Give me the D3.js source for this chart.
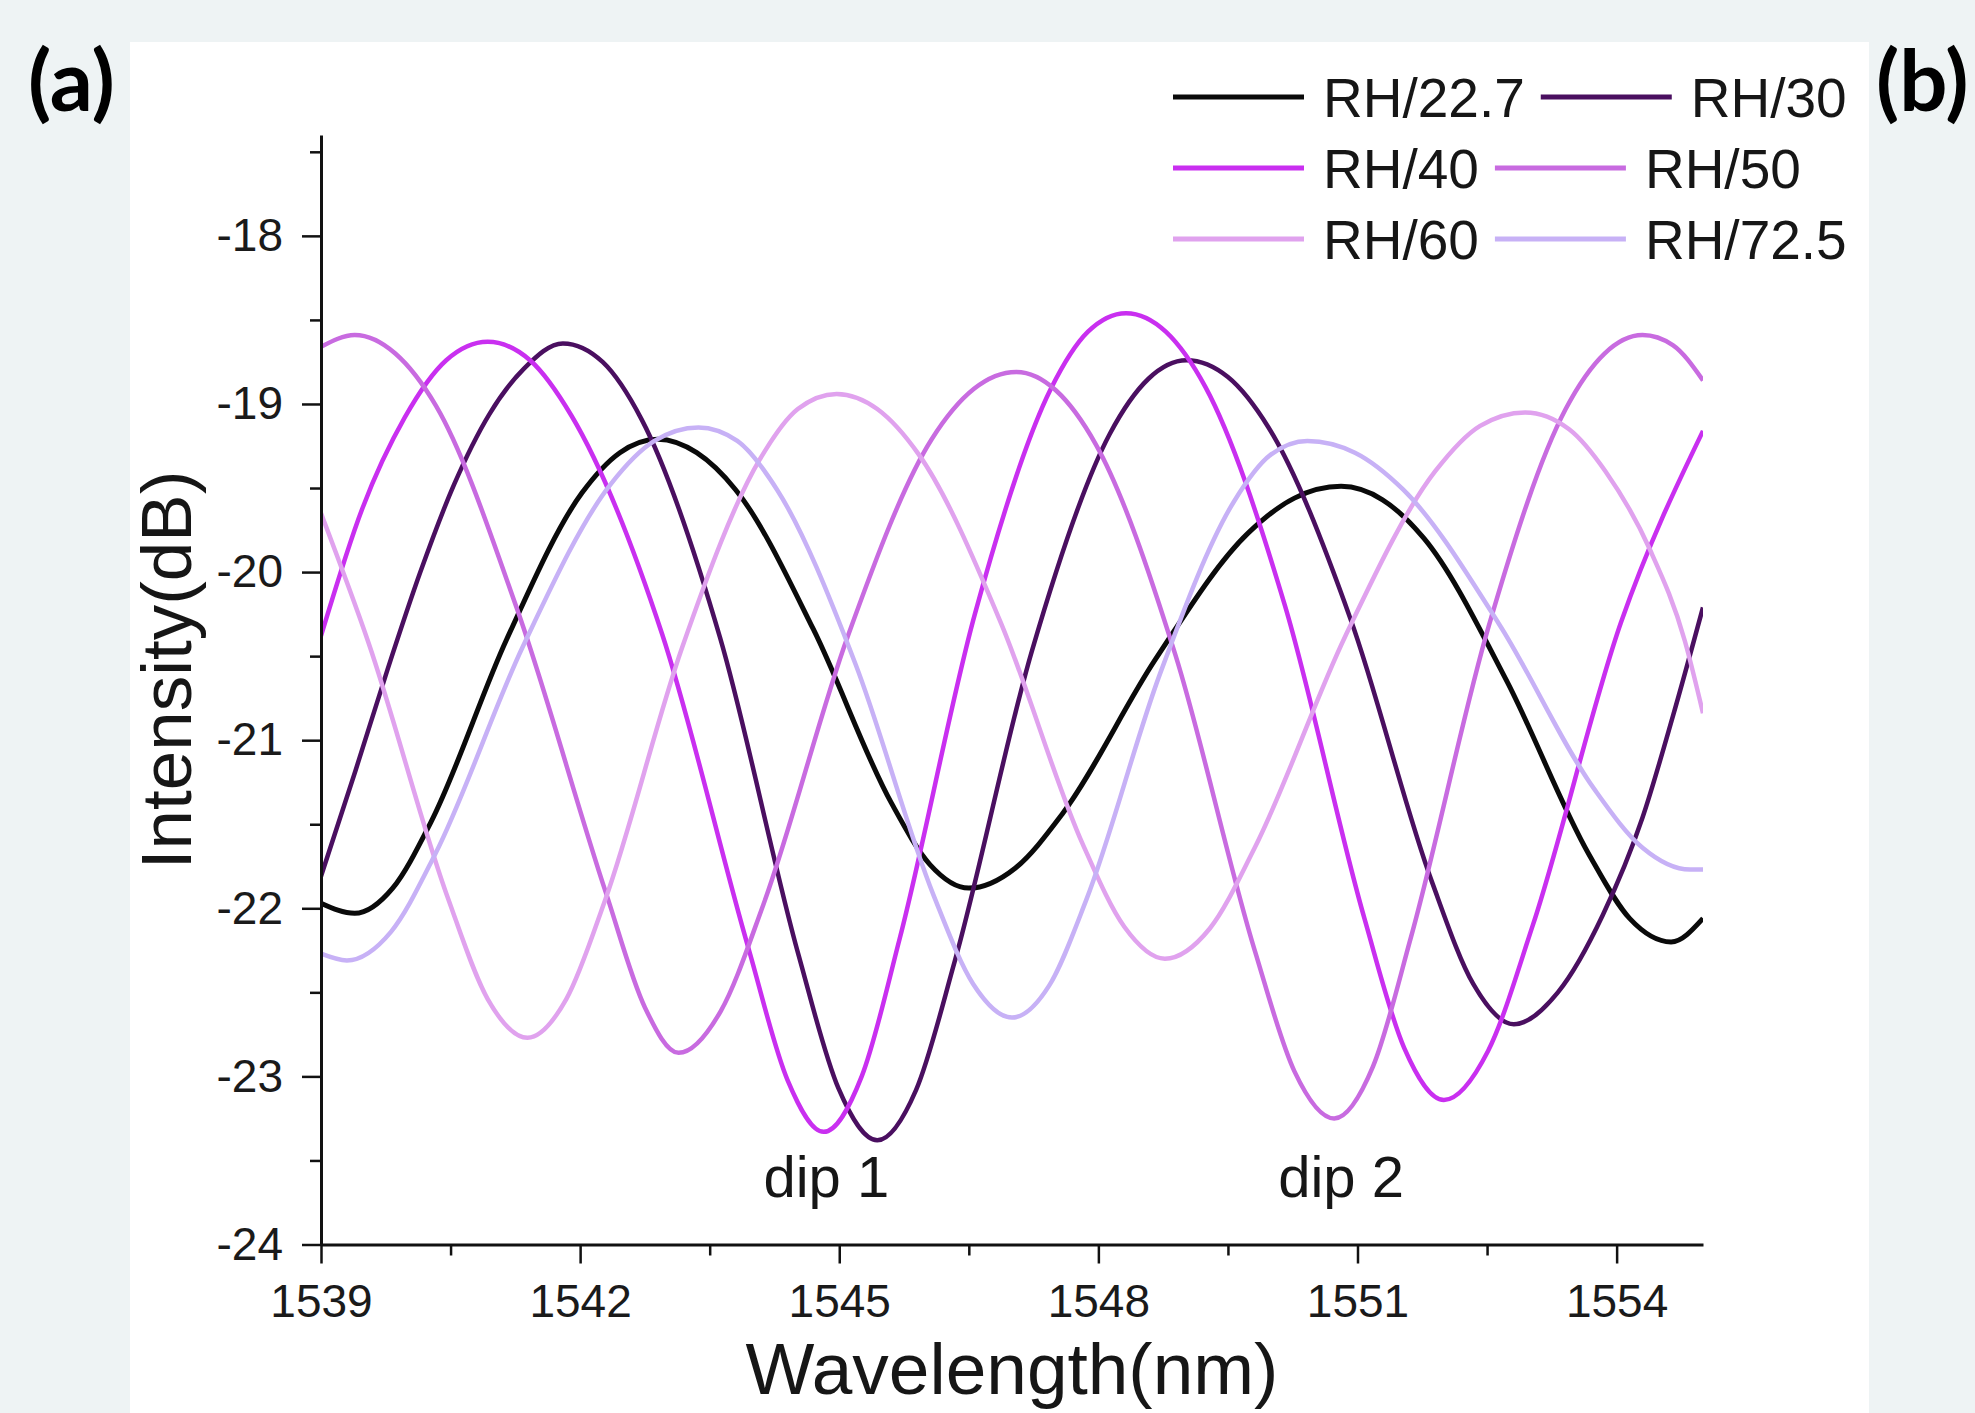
<!DOCTYPE html>
<html>
<head>
<meta charset="utf-8">
<script src="https://cdn.jsdelivr.net/npm/d3@7"></script>
<style>
  body { margin: 0; background: #eef3f4; }
  svg { display: block; }
  text { font-family: "Liberation Sans", Arial, sans-serif; fill: #161616; }
</style>
</head>
<body>
<svg class="chart" width="1975" height="1413"></svg>
<script>
// values, [wavelength nm, intensity dB]
const rh227 = [[1539.00, -21.97], [1539.39, -22.03], [1539.83, -21.88], [1540.27, -21.49], [1541.15, -20.40],
  [1542.02, -19.53], [1542.46, -19.29], [1542.90, -19.21], [1543.35, -19.29], [1543.80, -19.51],
  [1544.70, -20.34], [1545.60, -21.37], [1546.05, -21.74], [1546.50, -21.88], [1547.04, -21.76],
  [1547.58, -21.44], [1548.66, -20.52], [1549.73, -19.77], [1550.27, -19.56], [1550.81, -19.49],
  [1551.29, -19.57], [1551.77, -19.80], [1552.72, -20.64], [1553.68, -21.68], [1554.15, -22.06],
  [1554.63, -22.20], [1555.00, -22.06]]
const rh30 = [[1539.00, -21.81], [1539.40, -21.18], [1539.77, -20.58], [1540.15, -20.00], [1540.54, -19.48],
  [1540.95, -19.06], [1541.35, -18.79], [1541.80, -18.64], [1542.26, -18.75], [1542.71, -19.09],
  [1543.62, -20.39], [1544.53, -22.28], [1544.99, -23.07], [1545.44, -23.38], [1545.89, -23.08],
  [1546.34, -22.31], [1547.23, -20.47], [1548.13, -19.18], [1548.58, -18.85], [1549.02, -18.74],
  [1549.50, -18.84], [1549.97, -19.14], [1550.92, -20.28], [1551.86, -21.84], [1552.34, -22.45],
  [1552.81, -22.69], [1553.32, -22.50], [1553.84, -22.04], [1554.30, -21.46], [1554.65, -20.86],
  [1555.00, -20.21]]
const rh40 = [[1539.00, -20.38], [1539.48, -19.62], [1539.97, -19.08], [1540.45, -18.74], [1540.93, -18.63],
  [1541.42, -18.74], [1541.90, -19.07], [1542.95, -20.37], [1543.95, -22.24], [1544.40, -23.02],
  [1544.82, -23.33], [1545.26, -23.00], [1545.70, -22.18], [1546.57, -20.25], [1547.45, -18.91],
  [1547.88, -18.57], [1548.32, -18.46], [1548.78, -18.57], [1549.24, -18.90], [1550.16, -20.20],
  [1551.08, -22.06], [1551.54, -22.83], [1552.00, -23.14], [1552.51, -22.85], [1553.03, -22.10],
  [1554.05, -20.30], [1555.00, -19.16]]
const rh50 = [[1539.00, -18.66], [1539.39, -18.59], [1539.86, -18.70], [1540.33, -19.01], [1541.27, -20.22],
  [1542.30, -21.91], [1542.75, -22.59], [1543.14, -22.86], [1543.63, -22.61], [1544.12, -21.98],
  [1545.10, -20.38], [1546.07, -19.21], [1546.56, -18.91], [1547.05, -18.81], [1547.51, -18.92],
  [1547.97, -19.24], [1548.89, -20.49], [1549.81, -22.25], [1550.27, -22.97], [1550.73, -23.25],
  [1551.18, -22.94], [1551.62, -22.17], [1552.52, -20.32], [1553.41, -19.03], [1553.86, -18.70],
  [1554.30, -18.59], [1554.65, -18.65], [1555.00, -18.86]]
const rh60 = [[1539.00, -19.65], [1539.55, -20.42], [1540.47, -21.94], [1540.93, -22.54], [1541.39, -22.77],
  [1541.84, -22.54], [1542.29, -21.95], [1543.18, -20.45], [1544.08, -19.33], [1544.52, -19.03],
  [1544.97, -18.94], [1545.44, -19.03], [1545.92, -19.30], [1546.87, -20.30], [1547.82, -21.62],
  [1548.30, -22.11], [1548.77, -22.30], [1549.29, -22.12], [1549.81, -21.64], [1550.86, -20.38],
  [1551.90, -19.40], [1552.42, -19.13], [1552.94, -19.05], [1553.45, -19.15], [1553.87, -19.40],
  [1554.38, -19.86], [1554.79, -20.41], [1555.00, -20.84]]
const rh725 = [[1539.00, -22.27], [1539.30, -22.31], [1539.81, -22.14], [1540.32, -21.68], [1541.34, -20.44],
  [1542.35, -19.48], [1542.86, -19.22], [1543.37, -19.14], [1543.82, -19.22], [1544.28, -19.51],
  [1545.19, -20.55], [1546.09, -21.92], [1546.55, -22.45], [1547.00, -22.65], [1547.43, -22.46],
  [1547.86, -21.95], [1548.71, -20.61], [1549.57, -19.58], [1550.00, -19.30], [1550.42, -19.22],
  [1550.97, -19.29], [1551.53, -19.51], [1552.64, -20.31], [1553.74, -21.29], [1554.30, -21.64],
  [1554.85, -21.77], [1555.00, -21.77]]

const seriesNames = ['RH/22.7', 'RH/30', 'RH/40', 'RH/50', 'RH/60', 'RH/72.5']
const seriesData = [rh227, rh30, rh40, rh50, rh60, rh725]
const seriesColors = ['#0a0a0a', '#4a0f60', '#c92ff0', '#c86be0', '#e0a2ee', '#c7b1f6']

const xTicks = [1539, 1542, 1545, 1548, 1551, 1554]
const xMinor = [1540.5, 1543.5, 1546.5, 1549.5, 1552.5]
const yTicks = [-24, -23, -22, -21, -20, -19, -18]
const yMinor = [-23.5, -22.5, -21.5, -20.5, -19.5, -18.5, -17.5]
const dipLabels = [['dip 1', 1544.85], ['dip 2', 1550.81]]

const svg = d3.select('.chart')

// white figure panel
svg.append('rect')
  .attr('x', 130).attr('y', 42)
  .attr('width', 1739).attr('height', 1380)
  .attr('fill', '#ffffff')

svg.selectAll('.panel-label')
  .data([['(a)', 28], ['(b)', 1876]])
  .enter()
  .append('text')
  .attr('class', 'panel-label')
  .text(d => d[0])
  .attr('x', d => d[1]).attr('y', 111)
  .style('font-family', 'Lato, "Open Sans", sans-serif')
  .style('font-weight', 700).style('font-size', '85px').style('fill', '#000')

const x = d3.scaleLinear().domain([1539, 1555]).range([321, 1703])
const y = d3.scaleLinear().domain([-24, -17.4]).range([1244.5, 135])

svg.append('clipPath').attr('id', 'plot')
  .append('rect')
  .attr('x', 321).attr('y', 130)
  .attr('width', 1382).attr('height', 1115)

// monotoneX is parameterised on x, so uneven spacing of the points is fine
const line = d3.line()
  .x(d => x(d[0]))
  .y(d => y(d[1]))
  .curve(d3.curveMonotoneX)

svg.append('g')
  .attr('clip-path', 'url(#plot)')
  .selectAll('path')
  .data(seriesData)
  .enter()
  .append('path')
  .attr('d', d => line(d))
  .attr('fill', 'none')
  .attr('stroke', (d, i) => seriesColors[i])
  .attr('stroke-width', (d, i) => i === 0 ? 5 : 4.5)
  .attr('stroke-linejoin', 'round')

// axes, labels keep the plain hyphen of the original
svg.append('g')
  .attr('transform', 'translate(0,' + y(-24) + ')')
  .call(d3.axisBottom(x).tickValues(xTicks).tickSize(19).tickSizeOuter(0).tickPadding(21).tickFormat(d => String(d)))
svg.append('g')
  .attr('transform', 'translate(0,' + y(-24) + ')')
  .call(d3.axisBottom(x).tickValues(xMinor).tickSize(11))
  .call(g => g.select('.domain').remove())
  .call(g => g.selectAll('text').remove())

svg.append('g')
  .attr('transform', 'translate(' + x(1539) + ',0)')
  .call(d3.axisLeft(y).tickValues(yTicks).tickSize(19).tickSizeOuter(0).tickPadding(19).tickFormat(d => String(d)))
svg.append('g')
  .attr('transform', 'translate(' + x(1539) + ',0)')
  .call(d3.axisLeft(y).tickValues(yMinor).tickSize(11))
  .call(g => g.select('.domain').remove())
  .call(g => g.selectAll('text').remove())

svg.selectAll('.domain').attr('stroke', '#111').attr('stroke-width', 3)
svg.selectAll('.tick line').attr('stroke', '#111').attr('stroke-width', 2.5)
svg.selectAll('.tick text')
  .style('font-family', '"Liberation Sans", Arial, sans-serif')
  .style('font-size', '46px').style('fill', '#1a1a1a')

svg.append('text').text('Wavelength(nm)')
  .attr('x', 1012).attr('y', 1394)
  .attr('text-anchor', 'middle')
  .style('font-size', '73px')
svg.append('text').text('Intensity(dB)')
  .attr('transform', 'translate(191,670) rotate(-90)')
  .attr('text-anchor', 'middle')
  .style('font-size', '71px')

svg.selectAll('.dip')
  .data(dipLabels)
  .enter()
  .append('text')
  .attr('class', 'dip')
  .text(d => d[0])
  .attr('x', d => x(d[1]))
  .attr('y', y(-23.72))
  .attr('text-anchor', 'middle')
  .style('font-size', '58px')

// legend, two columns, the second one follows the first label
const legend = svg.append('g')
const rowY = [97, 168, 239]
rowY.forEach((ry, r) => {
  let lx = 1173
  for (let c = 0; c < 2; c++) {
    const i = r * 2 + c
    legend.append('line')
      .attr('x1', lx).attr('x2', lx + 131)
      .attr('y1', ry).attr('y2', ry)
      .attr('stroke', seriesColors[i])
      .attr('stroke-width', 5)
    const t = legend.append('text')
      .text(seriesNames[i])
      .attr('x', lx + 150).attr('y', ry + 20)
      .style('font-size', '55px')
    lx = lx + 150 + t.node().getComputedTextLength() + 16
  }
})
</script>
</body>
</html>
